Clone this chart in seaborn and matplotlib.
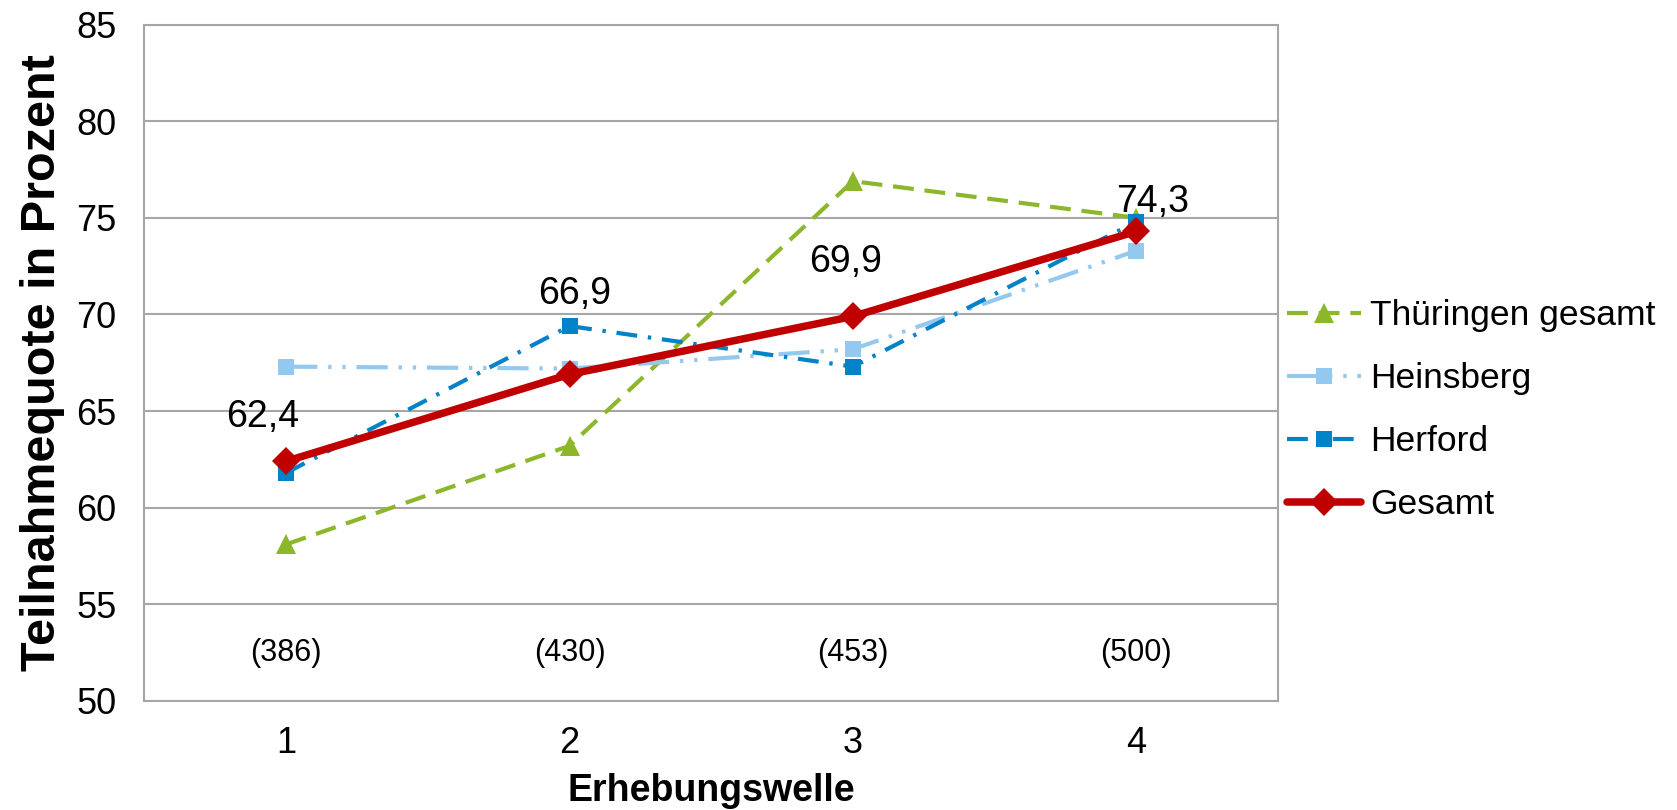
import pandas as pd
import matplotlib
matplotlib.use('Agg')
import matplotlib.pyplot as plt
import seaborn as sns

# Data
wellen = [1, 2, 3, 4]
fallzahlen = ['(386)', '(430)', '(453)', '(500)']
thueringen = [58.1, 63.2, 76.9, 75.0]
heinsberg = [67.3, 67.2, 68.2, 73.3]
herford = [61.8, 69.4, 67.3, 74.8]
gesamt = [62.4, 66.9, 69.9, 74.3]
gesamt_labels = ['62,4', '66,9', '69,9', '74,3']

sns.set_style('white')
plt.rcParams['font.family'] = ['Liberation Sans', 'DejaVu Sans']
plt.rcParams['text.color'] = 'black'
plt.rcParams['axes.labelcolor'] = 'black'
plt.rcParams['xtick.color'] = 'black'
plt.rcParams['ytick.color'] = 'black'

fig = plt.figure(figsize=(16.77, 8.10), dpi=100)
ax = fig.add_axes([0.0861, 0.1347, 0.6760, 0.8349])

series = [
    ('Thüringen gesamt', thueringen, '#8CB72A', (0, (5, 2.6)), '^', 14, 3.0),
    ('Heinsberg', heinsberg, '#95C8EE', (0, (7.5, 2.6, 0.8, 2.6, 0.8, 2.6)), 's', 11, 3.0),
    ('Herford', herford, '#0282C8', (0, (5, 2.6, 0.8, 2.6)), 's', 11, 3.0),
    ('Gesamt', gesamt, '#C00000', '-', 'D', 14, 5.4),
]

for name, vals, col, ls, mk, ms, lw in series:
    df = pd.DataFrame({'Welle': wellen, 'Quote': vals})
    sns.lineplot(data=df, x='Welle', y='Quote', ax=ax, color=col, linestyle=ls,
                 marker=mk, markersize=ms, linewidth=lw, markeredgewidth=0,
                 label=name)

# data labels for Gesamt
offsets = [(-17, 25), (4, 51), (-5, 32), (12, 14)]
for x, y, t, (dx, dy) in zip(wellen, gesamt, gesamt_labels, offsets):
    ax.annotate(t, (x, y), xytext=(dx, dy), textcoords='offset points',
                ha='center', va='baseline', fontsize=27)

# sample sizes
for x, t in zip(wellen, fallzahlen):
    ax.text(x, 52.5, t, ha='center', va='center', fontsize=22)

ax.set_xlim(0.5, 4.5)
ax.set_ylim(50, 85)
ax.set_xticks(wellen)
ax.set_yticks(range(50, 86, 5))
ax.yaxis.grid(True, color='#A6A6A6', linewidth=1.5)
ax.xaxis.grid(False)
for s in ax.spines.values():
    s.set_color('#A6A6A6')
    s.set_linewidth(1.5)
ax.tick_params(axis='both', length=0, labelsize=26)
ax.tick_params(axis='y', pad=20)
ax.tick_params(axis='x', pad=18)

ax.set_xlabel('Erhebungswelle', fontsize=27, fontweight='bold', labelpad=9)
ax.set_ylabel('Teilnahmequote in Prozent', fontsize=35, fontweight='bold', labelpad=8)

ax.legend(loc='center left', bbox_to_anchor=(1.0, 0.43), frameon=False,
          fontsize=25.5, handlelength=2.1, handletextpad=0.25, labelspacing=0.85,
          borderpad=0, borderaxespad=0.25)

plt.savefig('out.png', dpi=100)
